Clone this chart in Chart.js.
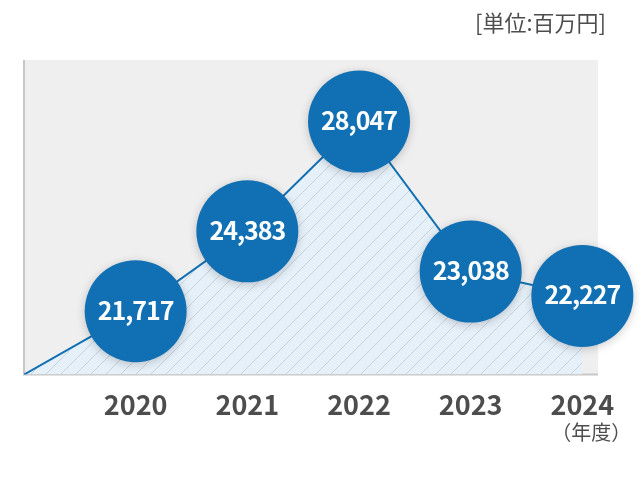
<!DOCTYPE html>
<html lang="ja">
<head>
<meta charset="utf-8">
<script src="https://cdn.jsdelivr.net/npm/chart.js@4/dist/chart.umd.min.js"></script>
<style>
  body { margin: 0; background: #fff; }
  #wrap { width: 640px; height: 500px; }
</style>
</head>
<body>
<div id="wrap"><canvas id="salesChart"></canvas></div>
<script>
// Chart data
const years = [2020, 2021, 2022, 2023, 2024];
const sales = [21717, 24383, 28047, 23038, 22227];
const startYear = 2019;   // line starts from the bottom-left corner
const yMin = 19600;
const yMax = 30100;
const unitLabel = '[単位:百万円]';
const yearSuffix = '（年度）';

const FONT = "'Noto Sans CJK JP', 'Noto Sans', sans-serif";
const BLUE = '#1070b3';

// Hatched fill for the area under the line
function makeHatch() {
    const c = document.createElement('canvas');
    c.width = 15;
    c.height = 15;
    const g = c.getContext('2d');
    g.fillStyle = '#e6f0f9';
    g.fillRect(0, 0, 15, 15);
    g.strokeStyle = '#c9d2db';
    g.lineWidth = 1;
    g.beginPath();
    g.moveTo(-1, 16); g.lineTo(16, -1);
    g.moveTo(-1, 1); g.lineTo(1, -1);
    g.moveTo(14, 16); g.lineTo(16, 14);
    g.stroke();
    return g.createPattern(c, 'repeat');
}

// Gray plot background and axis lines
const backgroundPlugin = {
    id: 'plotBackground',
    beforeDatasetsDraw(chart) {
        const { ctx, chartArea: a } = chart;
        ctx.save();
        ctx.fillStyle = '#efefef';
        ctx.fillRect(a.left, a.top, a.right - a.left, a.bottom - a.top);
        ctx.strokeStyle = '#c8c8c8';
        ctx.lineWidth = 2;
        ctx.beginPath();
        ctx.moveTo(a.left, a.top);
        ctx.lineTo(a.left, a.bottom);
        ctx.lineTo(a.right, a.bottom);
        ctx.stroke();
        ctx.restore();
    }
};

// Soft shadow under the bubbles
const shadowPlugin = {
    id: 'bubbleShadow',
    beforeDatasetDraw(chart, args) {
        if (args.index !== 1) return;
        const ctx = chart.ctx;
        ctx.save();
        ctx.shadowColor = 'rgba(0, 0, 0, 0.2)';
        ctx.shadowBlur = 10;
        ctx.shadowOffsetY = 2;
    },
    afterDatasetDraw(chart, args) {
        if (args.index !== 1) return;
        chart.ctx.restore();
    }
};

// Values inside bubbles, unit and year suffix
const labelPlugin = {
    id: 'bubbleLabels',
    afterDatasetsDraw(chart) {
        const { ctx } = chart;
        const meta = chart.getDatasetMeta(1);
        ctx.save();
        ctx.fillStyle = '#fff';
        ctx.font = 'bold 25px ' + FONT;
        ctx.letterSpacing = '-1px';
        ctx.textAlign = 'center';
        ctx.textBaseline = 'middle';
        meta.data.forEach((pt, i) => {
            ctx.fillText(sales[i].toLocaleString('en-US'), pt.x, pt.y - 1);
        });
        ctx.letterSpacing = '0px';

        ctx.fillStyle = '#4d4d4d';
        ctx.font = '22px ' + FONT;
        ctx.textAlign = 'right';
        ctx.fillText(unitLabel, 606, 23);

        const xs = chart.scales.x;
        ctx.font = '20px ' + FONT;
        ctx.textAlign = 'center';
        ctx.fillText(yearSuffix, xs.getPixelForValue(years[years.length - 1]) + 9, 432);
        ctx.restore();
    }
};

const ctx = document.getElementById('salesChart').getContext('2d');
const salesChart = new Chart(ctx, {
    type: 'line',
    data: {
        datasets: [{
            data: [{ x: startYear, y: yMin }].concat(years.map((y, i) => ({ x: y, y: sales[i] }))),
            borderColor: BLUE,
            borderWidth: 2,
            backgroundColor: makeHatch(),
            fill: 'start',
            pointRadius: 0,
            pointHoverRadius: 0,
            tension: 0,
            order: 2
        }, {
            data: years.map((y, i) => ({ x: y, y: sales[i] })),
            showLine: false,
            clip: false,
            pointRadius: 51,
            pointHoverRadius: 51,
            pointBackgroundColor: BLUE,
            pointBorderWidth: 0,
            pointHoverBorderWidth: 0,
            order: 1
        }]
    },
    options: {
        responsive: true,
        maintainAspectRatio: false,
        animation: false,
        events: [],
        layout: {
            autoPadding: false,
            padding: { left: 24, right: 42, top: 60, bottom: 65 }
        },
        plugins: {
            legend: { display: false },
            tooltip: { enabled: false }
        },
        scales: {
            x: {
                type: 'linear',
                min: startYear,
                max: 2024.14,
                afterBuildTicks: scale => {
                    scale.ticks = [startYear].concat(years).map(v => ({ value: v }));
                },
                afterFit: scale => {
                    scale.paddingLeft = 0;
                    scale.paddingRight = 0;
                },
                grid: { display: false, drawTicks: false },
                border: { display: false },
                ticks: {
                    padding: 14,
                    color: '#4d4d4d',
                    font: { family: FONT, size: 27, weight: 'bold' },
                    callback: v => (v === startYear ? '' : String(v))
                }
            },
            y: {
                display: false,
                min: yMin,
                max: yMax
            }
        }
    },
    plugins: [backgroundPlugin, shadowPlugin, labelPlugin]
});
</script>
</body>
</html>
